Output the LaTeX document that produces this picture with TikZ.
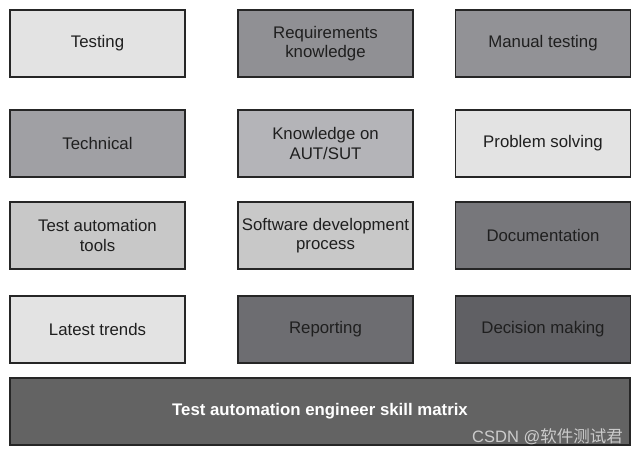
\documentclass[tikz,border=0pt]{standalone}
\usepackage{fontspec}
\setmainfont{Liberation Sans}
\newfontfamily\cjkfont{Noto Sans CJK SC}
\usepackage{tikz}

\definecolor{boxA}{HTML}{E3E3E3}
\definecolor{boxB}{HTML}{C8C8C8}
\definecolor{boxC}{HTML}{B4B4B8}
\definecolor{boxD}{HTML}{A0A0A4}
\definecolor{boxE}{HTML}{909094}
\definecolor{boxF}{HTML}{77777B}
\definecolor{boxG}{HTML}{6D6D71}
\definecolor{boxH}{HTML}{606064}
\definecolor{boxM}{HTML}{636363}

\begin{document}
\begin{tikzpicture}[x=1pt,y=-1pt,
  skill/.style={draw=black!85,line width=1.2pt,rectangle,minimum width=175pt,
    minimum height=67pt,align=center,font=\fontsize{16.8}{19.5}\selectfont,text=black!88},
  matrixbox/.style={skill,minimum width=620pt,text=white,font=\fontsize{16.8}{19.5}\selectfont\bfseries}]
  \useasboundingbox (0,0) rectangle (640,456);
  % first row
  \node[skill,fill=boxA] (testing) at (97.5,43.5) {Testing};
  \node[skill,fill=boxE] (reqs) at (325.5,43.5) {Requirements\\knowledge};
  \node[skill,fill=boxE!90!boxD] (manual) at (543,43.5) {Manual testing};
  % second row
  \node[skill,fill=boxD] (technical) at (97.5,143.5) {Technical};
  \node[skill,fill=boxC] (aut) at (325.5,143.5) {Knowledge on\\AUT/SUT};
  \node[skill,fill=boxA] (problem) at (543,143.5) {Problem solving};
  % third row
  \node[skill,fill=boxB] (tools) at (97.5,235.5) {Test automation\\tools};
  \node[skill,fill=boxB] (sdp) at (325.5,235.5) {Software development\\process};
  \node[skill,fill=boxF] (docs) at (543,235.5) {Documentation};
  % fourth row
  \node[skill,fill=boxA] (trends) at (97.5,329.5) {Latest trends};
  \node[skill,fill=boxG] (reporting) at (325.5,329.5) {Reporting};
  \node[skill,fill=boxH] (decision) at (543,329.5) {Decision making};
  % base
  \node[matrixbox,fill=boxM] (matrix) at (320,411.5) {Test automation engineer skill matrix};
  \node[anchor=east,inner sep=0pt,text=black!20,font=\fontsize{16.5}{18}\selectfont]
    (watermark) at (623,437) {CSDN @{\cjkfont 软件测试君}};
\end{tikzpicture}
\end{document}
